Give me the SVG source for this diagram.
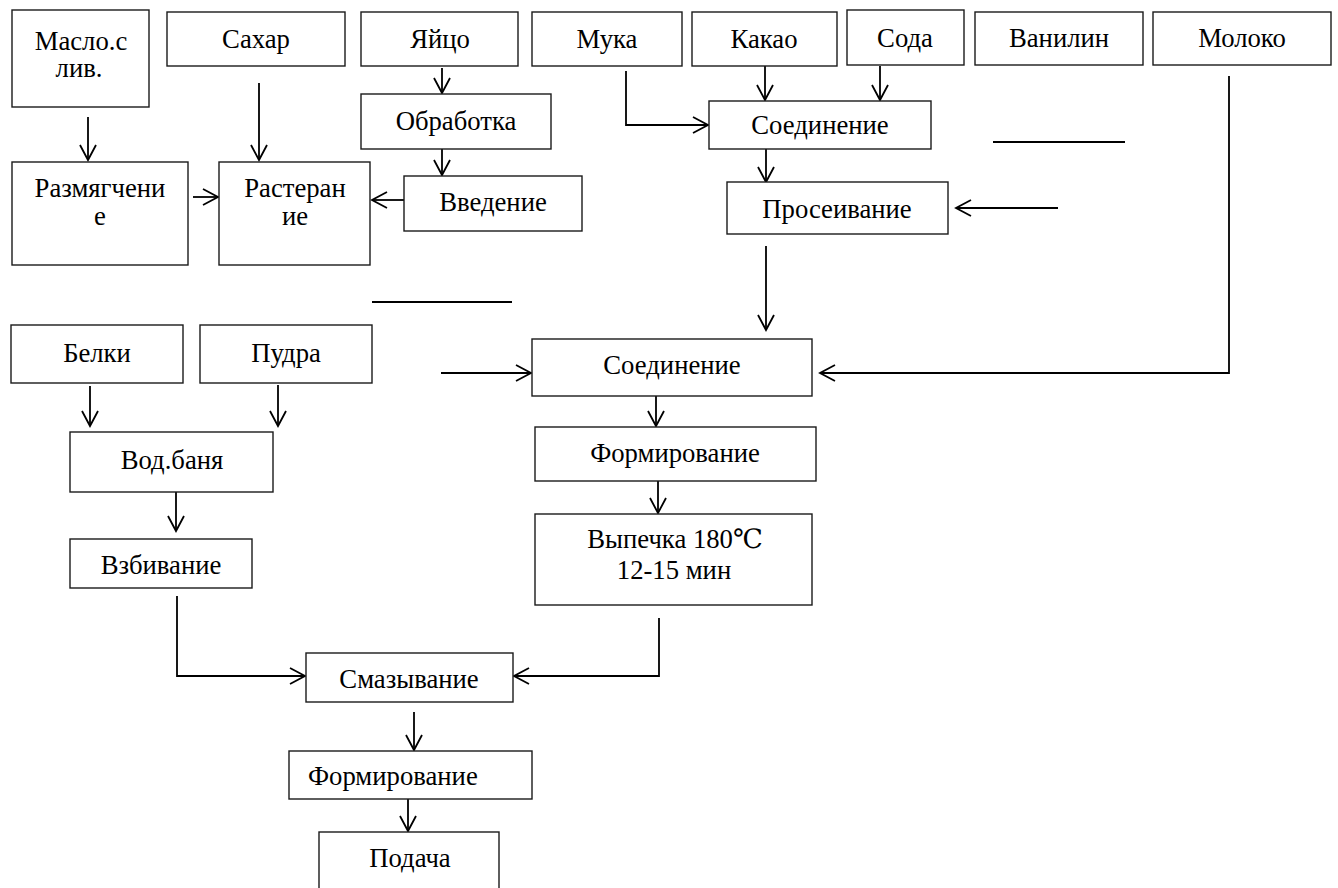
<svg xmlns="http://www.w3.org/2000/svg" width="1338" height="888" viewBox="0 0 1338 888">
<style>
rect{fill:#fff;stroke:#1a1a1a;stroke-width:1.4}
text{font-size:26.7px;fill:#000;text-anchor:middle}
.c{fill:none;stroke:#000;stroke-width:1.8}
</style>
<defs>
<marker id="a" markerUnits="userSpaceOnUse" markerWidth="20" markerHeight="20" viewBox="-16 -10 18 20" refX="0" refY="0" orient="auto">
<path d="M-15,-8 L0,0 L-15,8" fill="none" stroke="#000" stroke-width="1.8"/>
</marker>
</defs>
<rect x="0" y="0" width="1338" height="888" style="fill:#fff;stroke:none"/>
<g id="connectors">
<line class="c" x1="88" y1="117" x2="88" y2="160" marker-end="url(#a)"/>
<line class="c" x1="259" y1="83" x2="259" y2="160" marker-end="url(#a)"/>
<line class="c" x1="442" y1="68" x2="442" y2="93" marker-end="url(#a)"/>
<line class="c" x1="442" y1="149" x2="442" y2="175" marker-end="url(#a)"/>
<line class="c" x1="193" y1="197" x2="218" y2="197" marker-end="url(#a)"/>
<line class="c" x1="404" y1="200" x2="372" y2="200" marker-end="url(#a)"/>
<polyline class="c" points="626,71 626,125 708,125" marker-end="url(#a)"/>
<line class="c" x1="765" y1="66" x2="765" y2="100" marker-end="url(#a)"/>
<line class="c" x1="880" y1="66" x2="880" y2="100" marker-end="url(#a)"/>
<line class="c" x1="766" y1="149" x2="766" y2="182" marker-end="url(#a)"/>
<line class="c" x1="1058" y1="208" x2="956" y2="208" marker-end="url(#a)"/>
<line class="c" x1="993" y1="142" x2="1125" y2="142"/>
<line class="c" x1="766" y1="246" x2="766" y2="330" marker-end="url(#a)"/>
<polyline class="c" points="1229,76 1229,373 820,373" marker-end="url(#a)"/>
<line class="c" x1="372" y1="302" x2="512" y2="302"/>
<line class="c" x1="441" y1="373" x2="531" y2="373" marker-end="url(#a)"/>
<line class="c" x1="90" y1="386" x2="90" y2="426" marker-end="url(#a)"/>
<line class="c" x1="278" y1="385" x2="278" y2="426" marker-end="url(#a)"/>
<line class="c" x1="176" y1="492" x2="176" y2="531" marker-end="url(#a)"/>
<line class="c" x1="656" y1="396" x2="656" y2="426" marker-end="url(#a)"/>
<line class="c" x1="658" y1="481" x2="658" y2="513" marker-end="url(#a)"/>
<polyline class="c" points="177,596 177,676 305,676" marker-end="url(#a)"/>
<polyline class="c" points="659,618 659,676 514,676" marker-end="url(#a)"/>
<line class="c" x1="414" y1="712" x2="414" y2="750" marker-end="url(#a)"/>
<line class="c" x1="408" y1="799" x2="408" y2="831" marker-end="url(#a)"/>
</g>
<g id="nodes" font-family="Liberation Serif, Times New Roman, DejaVu Serif, serif">
<g id="maslo"><rect x="12" y="10" width="137" height="97"/><text x="81" y="50">Масло.с</text><text x="79" y="77">лив.</text></g>
<g id="sahar"><rect x="167" y="12" width="178" height="54"/><text x="256" y="48">Сахар</text></g>
<g id="yaitso"><rect x="361" y="12" width="157" height="54"/><text x="440" y="48">Яйцо</text></g>
<g id="muka"><rect x="532" y="12" width="150" height="54"/><text x="607" y="48">Мука</text></g>
<g id="kakao"><rect x="692" y="12" width="145" height="54"/><text x="764" y="48">Какао</text></g>
<g id="soda"><rect x="847" y="10" width="117" height="55"/><text x="905" y="47">Сода</text></g>
<g id="vanilin"><rect x="975" y="12" width="168" height="53"/><text x="1059" y="47">Ванилин</text></g>
<g id="moloko"><rect x="1153" y="12" width="178" height="53"/><text x="1242" y="47">Молоко</text></g>
<g id="obrabotka"><rect x="361" y="94" width="190" height="55"/><text x="456" y="130">Обработка</text></g>
<g id="vvedenie"><rect x="404" y="176" width="178" height="55"/><text x="493" y="211">Введение</text></g>
<g id="razmyagchenie"><rect x="12" y="162" width="176" height="103"/><text x="100" y="197">Размягчени</text><text x="100" y="225">е</text></g>
<g id="rasteranie"><rect x="219" y="162" width="151" height="103"/><text x="295" y="197">Растеран</text><text x="295" y="225">ие</text></g>
<g id="soedinenie1"><rect x="709" y="101" width="222" height="48"/><text x="820" y="134">Соединение</text></g>
<g id="proseivanie"><rect x="727" y="182" width="221" height="52"/><text x="837" y="218">Просеивание</text></g>
<g id="belki"><rect x="11" y="325" width="172" height="58"/><text x="97" y="362">Белки</text></g>
<g id="pudra"><rect x="200" y="325" width="172" height="58"/><text x="286" y="362">Пудра</text></g>
<g id="vodbanya"><rect x="70" y="432" width="203" height="60"/><text x="172" y="469">Вод.баня</text></g>
<g id="vzbivanie"><rect x="70" y="539" width="182" height="49"/><text x="161" y="574">Взбивание</text></g>
<g id="soedinenie2"><rect x="532" y="339" width="280" height="57"/><text x="672" y="374">Соединение</text></g>
<g id="formirovanie1"><rect x="535" y="427" width="281" height="54"/><text x="675" y="462">Формирование</text></g>
<g id="vypechka"><rect x="535" y="514" width="277" height="91"/><text x="675" y="548">Выпечка 180℃</text><text x="674" y="579">12-15 мин</text></g>
<g id="smazyvanie"><rect x="306" y="653" width="207" height="49"/><text x="409" y="688">Смазывание</text></g>
<g id="formirovanie2"><rect x="289" y="751" width="243" height="48"/><text x="308" y="785" style="text-anchor:start">Формирование</text></g>
<g id="podacha"><rect x="319" y="832" width="180" height="70"/><text x="410" y="867">Подача</text></g>
</g>
</svg>
